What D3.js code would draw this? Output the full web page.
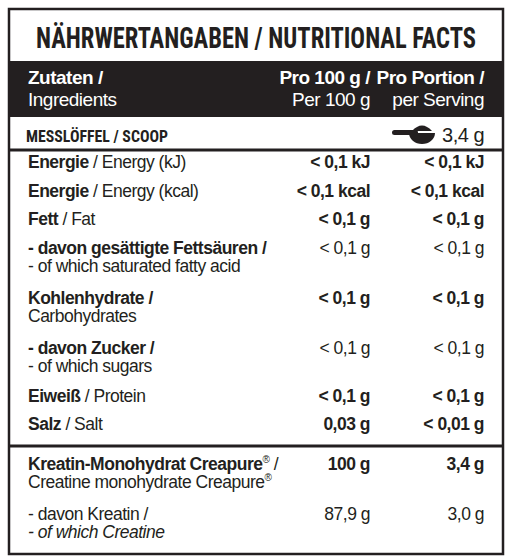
<!DOCTYPE html><html><head><meta charset="utf-8"><script src="https://cdn.jsdelivr.net/npm/d3@7"></script>
<style>body{margin:0;background:#fff}</style></head><body><svg id="c" width="512" height="560"></svg>
<script>
const title = "NÄHRWERTANGABEN / NUTRITIONAL FACTS";
const headers = [["Zutaten /","Ingredients"],["Pro 100 g /","Per 100 g"],["Pro Portion /","per Serving"]];
const scoopLabel = "MESSLÖFFEL / SCOOP", scoopValue = "3,4 g";
const labelsDe = ["Energie","Energie","Fett","- davon gesättigte Fettsäuren /","Kohlenhydrate /","- davon Zucker /","Eiweiß","Salz"];
const labelsEn = [" / Energy (kJ)"," / Energy (kcal)"," / Fat","- of which saturated fatty acid","Carbohydrates","- of which sugars"," / Protein"," / Salt"];
const twoLine = [false,false,false,true,true,true,false,false];
const per100 = ["< 0,1 kJ","< 0,1 kcal","< 0,1 g","< 0,1 g","< 0,1 g","< 0,1 g","< 0,1 g","0,03 g"];
const perPortion = ["< 0,1 kJ","< 0,1 kcal","< 0,1 g","< 0,1 g","< 0,1 g","< 0,1 g","< 0,1 g","< 0,01 g"];
const boldVals = [true,true,true,false,true,false,true,true];
const rowY = [168,197,225,254,304,354,402,430];
const creaY = [470,520];

const svg=d3.select("#c");
const F="'Liberation Sans',Arial,sans-serif";
const CF="'Roboto Condensed','Liberation Sans Narrow','DejaVu Sans Condensed',sans-serif";
svg.append("rect").attr("x",9).attr("y",9).attr("width",494).attr("height",545).attr("fill","none").attr("stroke","#231f20").attr("stroke-width",2.5);
svg.append("text").attr("x",256).attr("y",48).attr("text-anchor","middle").attr("font-family",CF).attr("font-weight","bold").attr("font-size",30).attr("fill","#231f20").attr("textLength",440).attr("lengthAdjust","spacingAndGlyphs").text(title);
svg.append("rect").attr("x",9).attr("y",61).attr("width",494).attr("height",56).attr("fill","#231f20");
const hx=[[28,"start"],[370,"end"],[484,"end"]];
const g=svg.append("g").attr("font-family",F).attr("font-size",17.5).attr("fill","#231f20").attr("letter-spacing",-0.5);
headers.forEach((h,i)=>{
  const t=g.append("text").attr("font-size",19).attr("fill","#fff").attr("text-anchor",hx[i][1]);
  t.append("tspan").attr("x",hx[i][0]).attr("y",84).attr("font-weight","bold").text(h[0]);
  t.append("tspan").attr("x",hx[i][0]).attr("y",106).text(h[1]);
});
svg.append("text").attr("x",26).attr("y",142).attr("font-family",CF).attr("font-weight","bold").attr("font-size",17).attr("fill","#231f20").attr("textLength",142).attr("lengthAdjust","spacingAndGlyphs").text(scoopLabel);
svg.append("rect").attr("x",392).attr("y",130).attr("width",26).attr("height",5).attr("rx",2.5).attr("fill","#231f20");
svg.append("path").attr("d","M409,133 a13,11 0 0 0 26,0 Z").attr("fill","#231f20");
svg.append("path").attr("d","M412,131 q10,-11 20,0 Z").attr("fill","#231f20");
g.append("text").attr("x",484).attr("y",142).attr("text-anchor","end").attr("font-size",20).text(scoopValue);
svg.append("line").attr("x1",9).attr("x2",503).attr("y1",150).attr("y2",150).attr("stroke","#231f20").attr("stroke-width",3);
svg.append("line").attr("x1",9).attr("x2",503).attr("y1",446).attr("y2",446).attr("stroke","#231f20").attr("stroke-width",3);
labelsDe.forEach((d,i)=>{
  const y=rowY[i];
  const t=g.append("text").attr("x",28).attr("y",y);
  t.append("tspan").attr("font-weight","bold").text(d);
  if(twoLine[i]) g.append("text").attr("x",28).attr("y",y+18).text(labelsEn[i]);
  else t.append("tspan").text(labelsEn[i]);
  g.append("text").attr("x",370).attr("y",y).attr("text-anchor","end").attr("font-weight",boldVals[i]?"bold":"normal").text(per100[i]);
  g.append("text").attr("x",484).attr("y",y).attr("text-anchor","end").attr("font-weight",boldVals[i]?"bold":"normal").text(perPortion[i]);
});
const c1=g.append("text").attr("x",28).attr("y",creaY[0]);
c1.append("tspan").attr("font-weight","bold").text("Kreatin-Monohydrat Creapure");
c1.append("tspan").attr("font-size",10).attr("dy",-7).text("®");
c1.append("tspan").attr("dy",7).text(" /");
const c2=g.append("text").attr("x",28).attr("y",creaY[0]+18);
c2.append("tspan").text("Creatine monohydrate Creapure");
c2.append("tspan").attr("font-size",10).attr("dy",-7).text("®");
g.append("text").attr("x",370).attr("y",creaY[0]).attr("text-anchor","end").attr("font-weight","bold").text("100 g");
g.append("text").attr("x",484).attr("y",creaY[0]).attr("text-anchor","end").attr("font-weight","bold").text("3,4 g");
g.append("text").attr("x",28).attr("y",creaY[1]).text("- davon Kreatin /");
g.append("text").attr("x",28).attr("y",creaY[1]+18).attr("font-style","italic").text("- of which Creatine");
g.append("text").attr("x",370).attr("y",creaY[1]).attr("text-anchor","end").text("87,9 g");
g.append("text").attr("x",484).attr("y",creaY[1]).attr("text-anchor","end").text("3,0 g");
</script></body></html>
